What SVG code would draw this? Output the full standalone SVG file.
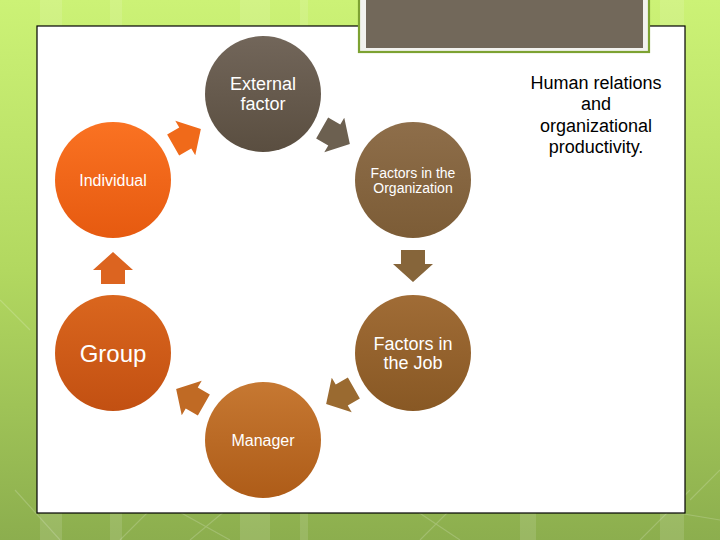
<svg xmlns="http://www.w3.org/2000/svg" xmlns:xlink="http://www.w3.org/1999/xlink" width="720" height="540" viewBox="0 0 720 540">
<defs>
<linearGradient id="bg" x1="0" y1="0" x2="0" y2="1">
<stop offset="0" stop-color="#ccf276"/><stop offset="0.5" stop-color="#b2d860"/><stop offset="1" stop-color="#8cae4e"/>
</linearGradient>
<linearGradient id="gExt" x1="0" y1="0" x2="0" y2="1"><stop offset="0" stop-color="#72665a"/><stop offset="1" stop-color="#5a4e40"/></linearGradient>
<linearGradient id="gOrg" x1="0" y1="0" x2="0" y2="1"><stop offset="0" stop-color="#8e6e4a"/><stop offset="1" stop-color="#7c5c36"/></linearGradient>
<linearGradient id="gJob" x1="0" y1="0" x2="0" y2="1"><stop offset="0" stop-color="#a06c36"/><stop offset="1" stop-color="#885824"/></linearGradient>
<linearGradient id="gMan" x1="0" y1="0" x2="0" y2="1"><stop offset="0" stop-color="#c67832"/><stop offset="1" stop-color="#ae5c18"/></linearGradient>
<linearGradient id="gGrp" x1="0" y1="0" x2="0" y2="1"><stop offset="0" stop-color="#da661e"/><stop offset="1" stop-color="#c25012"/></linearGradient>
<linearGradient id="gInd" x1="0" y1="0" x2="0" y2="1"><stop offset="0" stop-color="#fa7222"/><stop offset="1" stop-color="#e65a10"/></linearGradient>
<path id="arr" d="M-16,-12 H-2 V-20 L16,0 L-2,20 V12 H-16 Z"/>
<style>
.w{fill:#ffffff;font-family:"Liberation Sans",Arial,sans-serif;text-anchor:middle}
.k{fill:#000000;font-family:"Liberation Sans",Arial,sans-serif;text-anchor:middle;font-size:18px}
.stripe{fill:#ffffff;opacity:0.12}
.dl{stroke:#ffffff;stroke-opacity:0.18;stroke-width:1.2;fill:none}
</style>
</defs>
<g id="background">
<rect x="0" y="0" width="720" height="540" fill="url(#bg)"/>
<rect class="stripe" x="40" y="0" width="22" height="540"/>
<rect class="stripe" x="110" y="0" width="12" height="540"/>
<rect class="stripe" x="240" y="0" width="30" height="540"/>
<rect class="stripe" x="300" y="0" width="8" height="540"/>
<rect class="stripe" x="520" y="0" width="16" height="540"/>
<rect class="stripe" x="660" y="0" width="24" height="540"/>
<path class="dl" d="M15,490 L60,540 M120,540 L180,480 M140,490 L230,540 M190,540 L250,490 M370,480 L460,540 M420,540 L470,490 M600,500 L720,520 M640,540 L690,490 M690,500 L720,470 M0,300 L30,330"/>
</g>
<g id="panel">
<rect x="37" y="26" width="648" height="487" fill="#ffffff" stroke="#000000" stroke-width="1.2"/>
</g>
<g id="title-box">
<rect x="359" y="-5" width="290" height="57" fill="#f2f2ee" stroke="#7da232" stroke-width="2.2"/>
<rect x="366" y="0" width="277" height="48" fill="#72685a"/>
</g>
<g id="connectors">
<use xlink:href="#arr" href="#arr" transform="translate(336,136) rotate(30)" fill="#6c6050"/>
<use xlink:href="#arr" href="#arr" transform="translate(413,266) rotate(90)" fill="#86653a"/>
<use xlink:href="#arr" href="#arr" transform="translate(340,396) rotate(150)" fill="#9a6a30"/>
<use xlink:href="#arr" href="#arr" transform="translate(190,397) rotate(210)" fill="#c06a24"/>
<use xlink:href="#arr" href="#arr" transform="translate(113,268) rotate(-90)" fill="#dc6420"/>
<use xlink:href="#arr" href="#arr" transform="translate(187,137) rotate(-30)" fill="#f06a1a"/>
</g>
<g id="external-factor">
<circle cx="263" cy="94" r="58" fill="url(#gExt)"/>
<text class="w" font-size="18" x="263" y="90">External</text>
<text class="w" font-size="18" x="263" y="110">factor</text>
</g>
<g id="organization">
<circle cx="413" cy="180" r="58" fill="url(#gOrg)"/>
<text class="w" font-size="14" x="413" y="178">Factors in the</text>
<text class="w" font-size="14" x="413" y="193">Organization</text>
</g>
<g id="job">
<circle cx="413" cy="353" r="58" fill="url(#gJob)"/>
<text class="w" font-size="18" x="413" y="350">Factors in</text>
<text class="w" font-size="18" x="413" y="369">the Job</text>
</g>
<g id="manager">
<circle cx="263" cy="440" r="58" fill="url(#gMan)"/>
<text class="w" font-size="16" x="263" y="446">Manager</text>
</g>
<g id="group">
<circle cx="113" cy="353" r="58" fill="url(#gGrp)"/>
<text class="w" font-size="24" x="113" y="362">Group</text>
</g>
<g id="individual">
<circle cx="113" cy="180" r="58" fill="url(#gInd)"/>
<text class="w" font-size="16" x="113" y="186">Individual</text>
</g>
<g id="title-text">
<text class="k" x="596" y="89">Human relations</text>
<text class="k" x="596" y="110">and</text>
<text class="k" x="596" y="132">organizational</text>
<text class="k" x="596" y="153">productivity.</text>
</g>
</svg>
